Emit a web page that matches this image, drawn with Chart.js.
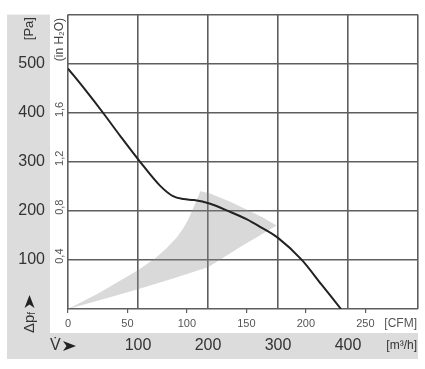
<!DOCTYPE html>
<html>
<head>
<meta charset="utf-8">
<script src="https://cdn.jsdelivr.net/npm/chart.js@4.4.1/dist/chart.umd.min.js"></script>
<style>
  html, body { margin: 0; padding: 0; background: #fff; }
  canvas { display: block; }
</style>
</head>
<body>
<canvas id="fanChart" width="425" height="369"></canvas>
<script>
// fan characteristic: airflow in m³/h, static pressure in Pa
const flowM3h    = [0, 25, 50, 75, 103, 131, 150, 165, 180, 202, 230, 255, 275, 300, 334, 362, 390];
const pressurePa = [490, 446, 400, 352, 300, 252, 230, 224, 222, 215, 199, 183, 167, 145, 100, 50, 0];

// grey operating range, traced round its outline
const rangeFlow = [0, 45, 101, 125, 140, 155, 164, 172, 178, 184, 189, 202, 231, 255, 279, 298, 274, 250, 200, 150, 101, 50, 0];
const rangePa   = [0, 33, 80, 104, 123, 145, 163, 183, 203, 222, 240, 236, 219, 203, 186, 170, 150, 130, 85, 62, 41, 20, 0];

// tick labels
const paTicks    = [100, 200, 300, 400, 500];
const m3hTicks   = [100, 200, 300, 400];
const cfmTicks   = [0, 50, 100, 150, 200, 250];
const inH2OTicks = [0.4, 0.8, 1.2, 1.6];

const M3H_PER_CFM = 1.699;
const PA_PER_INH2O = 249.09;

const FONT = 'Liberation Sans, Arial, Helvetica, sans-serif';
const gridColor = '#5e5e5e';
const panelGrey = '#dcdcdc';

Chart.defaults.font.family = FONT;

function toPoints(xs, ys) {
    return xs.map((x, i) => ({ x: x, y: ys[i] }));
}

function rotatedText(ctx, text, x, y, font, color, align) {
    ctx.save();
    ctx.translate(x, y);
    ctx.rotate(-Math.PI / 2);
    ctx.font = font;
    ctx.fillStyle = color;
    ctx.textAlign = align || 'center';
    ctx.textBaseline = 'middle';
    ctx.fillText(text, 0, 0);
    ctx.restore();
}

// notched arrowhead pointing right, from (x,y) = back centre
function arrowHead(ctx, x, y, angle) {
    ctx.save();
    ctx.translate(x, y);
    ctx.rotate(angle);
    ctx.fillStyle = '#222';
    ctx.beginPath();
    ctx.moveTo(0, -5);
    ctx.lineTo(13, 0);
    ctx.lineTo(0, 5);
    ctx.lineTo(3.5, 0);
    ctx.closePath();
    ctx.fill();
    ctx.restore();
}

// grey panels behind the axis labels, and the extra texts
const decorations = {
    id: 'decorations',
    beforeDraw(chart) {
        const ctx = chart.ctx;
        const s = chart.scales;
        const area = chart.chartArea;
        ctx.save();
        ctx.fillStyle = '#fff';
        ctx.fillRect(0, 0, chart.width, chart.height);
        ctx.fillStyle = panelGrey;
        ctx.fillRect(s.y.left, area.top, s.y.right - s.y.left, s.x.bottom - area.top);
        ctx.fillRect(s.y.left, s.x.top, area.right - s.y.left, s.x.bottom - s.x.top);
        ctx.restore();
    },
    afterDraw(chart) {
        const ctx = chart.ctx;
        const s = chart.scales;
        const area = chart.chartArea;
        const yMid = (s.y.left + s.y.right) / 2;
        const h2oMid = (s.yH2O.left + s.yH2O.right) / 2;

        rotatedText(ctx, '[Pa]', yMid + 1, area.top + 14, '13px ' + FONT, '#333');
        rotatedText(ctx, '(in H\u2082O)', h2oMid + 1, area.top + 25, '12px ' + FONT, '#444');

        inH2OTicks.forEach(v => {
            const py = s.yH2O.getPixelForValue(v);
            rotatedText(ctx, String(v).replace('.', ','), h2oMid + 1, py - 4, '11px ' + FONT, '#555');
        });

        // Δpf reading upwards, arrow above it
        ctx.save();
        ctx.translate(yMid + 1, area.bottom + 24);
        ctx.rotate(-Math.PI / 2);
        ctx.fillStyle = '#333';
        ctx.textAlign = 'left';
        ctx.textBaseline = 'middle';
        ctx.font = '15px ' + FONT;
        ctx.fillText('\u0394p', 0, 0);
        const w = ctx.measureText('\u0394p').width;
        ctx.font = '10px ' + FONT;
        ctx.fillText('f', w, 3);
        ctx.restore();
        arrowHead(ctx, yMid + 1, area.bottom - 1, -Math.PI / 2);

        // V̇ with arrow in the bottom band
        const bandMid = (s.x.top + s.x.bottom) / 2;
        ctx.save();
        ctx.fillStyle = '#333';
        ctx.textAlign = 'left';
        ctx.textBaseline = 'middle';
        ctx.font = '16px ' + FONT;
        ctx.fillText('V\u0307', 50, bandMid);
        ctx.restore();
        arrowHead(ctx, 63, bandMid, 0);

        // unit labels at the right end of the x axes
        ctx.save();
        ctx.textAlign = 'right';
        ctx.textBaseline = 'middle';
        ctx.font = '12px ' + FONT;
        ctx.fillStyle = '#555';
        ctx.fillText('[CFM]', area.right - 1, (s.xCfm.top + s.xCfm.bottom) / 2 + 3);
        ctx.fillStyle = '#333';
        ctx.fillText('[m\u00B3/h]', area.right - 1, bandMid);
        ctx.restore();
    }
};

new Chart(document.getElementById('fanChart'), {
    type: 'line',
    data: {
        datasets: [
            {
                label: 'Kennlinie',
                data: toPoints(flowM3h, pressurePa),
                borderColor: '#222',
                borderWidth: 2,
                pointRadius: 0,
                cubicInterpolationMode: 'monotone',
                fill: false,
                order: 0
            },
            {
                label: 'Arbeitsbereich',
                data: toPoints(rangeFlow, rangePa),
                borderWidth: 0,
                borderColor: 'rgba(0,0,0,0)',
                backgroundColor: 'rgba(140,140,140,0.33)',
                pointRadius: 0,
                tension: 0,
                fill: 'shape',
                order: 1
            }
        ]
    },
    options: {
        responsive: false,
        animation: false,
        events: [],
        layout: {
            autoPadding: false,
            padding: { left: 7, right: 7, top: 5, bottom: 10 }
        },
        plugins: {
            legend: { display: false },
            tooltip: { enabled: false }
        },
        scales: {
            x: {
                type: 'linear',
                position: 'bottom',
                min: 0,
                max: 500,
                weight: 2,
                afterFit: scale => { scale.height = 26; },
                ticks: {
                    stepSize: 100,
                    autoSkip: false,
                    maxRotation: 0,
                    padding: 3,
                    color: '#333',
                    font: { size: 16 },
                    callback: v => m3hTicks.includes(v) ? String(v) : ''
                },
                grid: { color: gridColor, lineWidth: 1.6, drawTicks: false },
                border: { display: false }
            },
            xCfm: {
                type: 'linear',
                position: 'bottom',
                min: 0,
                max: 500 / M3H_PER_CFM,
                weight: 1,
                afterFit: scale => { scale.height = 24; },
                ticks: {
                    stepSize: 50,
                    includeBounds: false,
                    autoSkip: false,
                    maxRotation: 0,
                    padding: 4,
                    color: '#555',
                    font: { size: 11 },
                    callback: v => cfmTicks.includes(v) ? String(v) : ''
                },
                grid: { drawOnChartArea: false, drawTicks: true, tickLength: 4, color: gridColor, lineWidth: 1.2 },
                border: { display: false }
            },
            y: {
                type: 'linear',
                position: 'left',
                min: 0,
                max: 600,
                weight: 2,
                afterFit: scale => { scale.width = 43; },
                ticks: {
                    stepSize: 100,
                    padding: 5,
                    color: '#333',
                    font: { size: 16 },
                    callback: v => paTicks.includes(v) ? String(v) : ''
                },
                grid: { color: gridColor, lineWidth: 1.6, drawTicks: false },
                border: { display: false }
            },
            yH2O: {
                type: 'linear',
                position: 'left',
                min: 0,
                max: 600 / PA_PER_INH2O,
                weight: 1,
                afterFit: scale => { scale.width = 18; },
                ticks: { display: false },
                grid: { display: false },
                border: { display: false }
            }
        }
    },
    plugins: [decorations]
});
</script>
</body>
</html>
